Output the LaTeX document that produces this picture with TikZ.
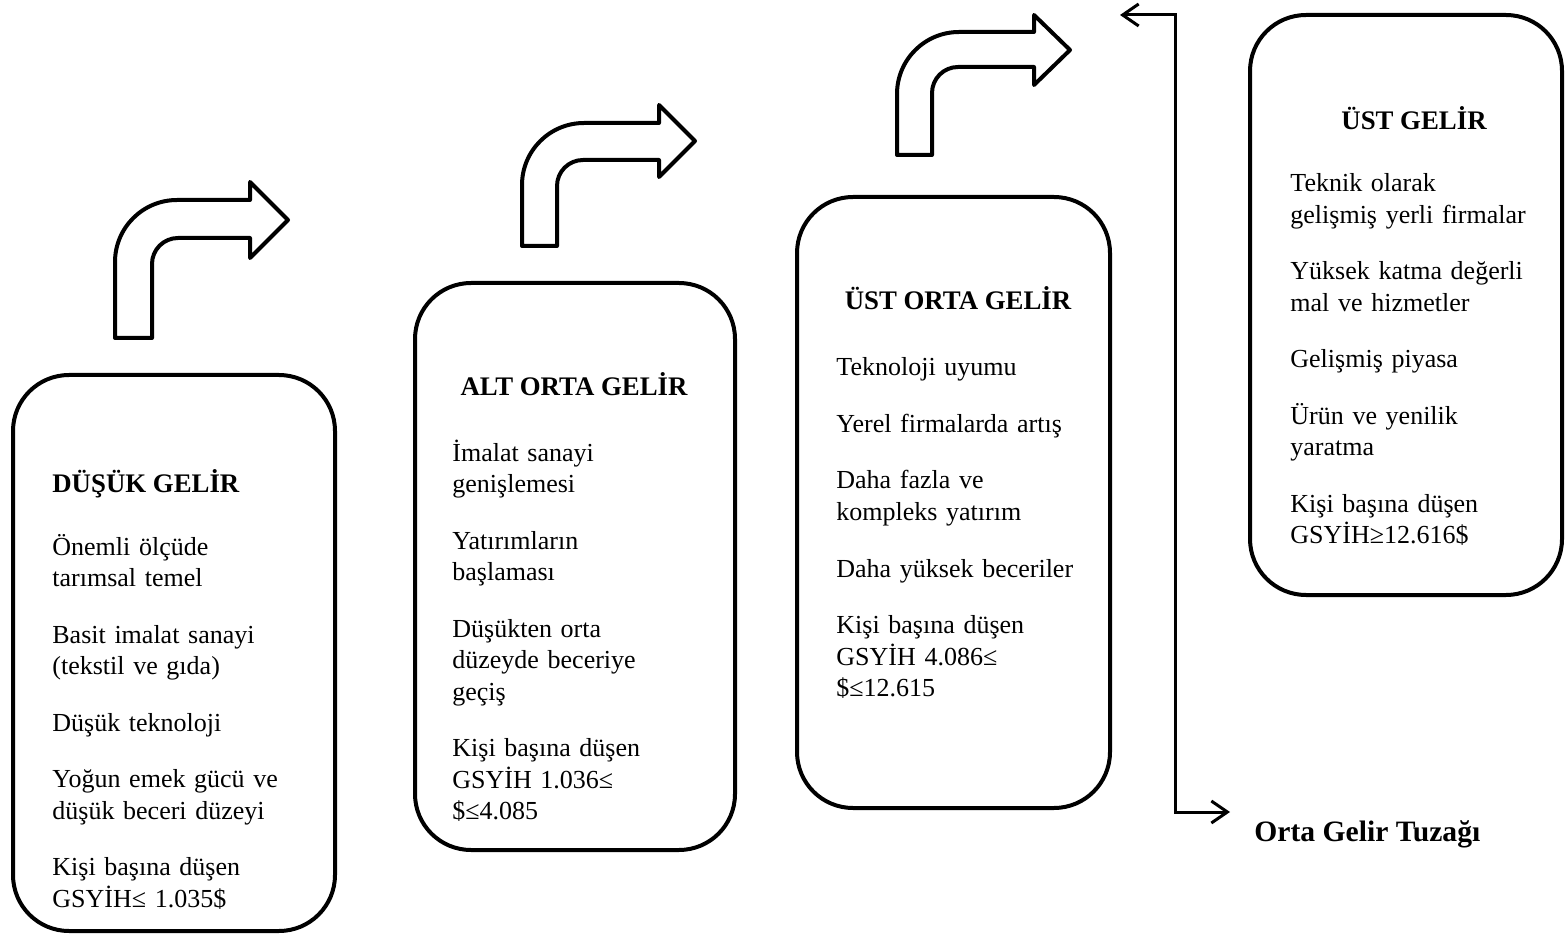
\documentclass[tikz,border=0pt]{standalone}
\usepackage{fontspec}
\setmainfont{Liberation Serif}
\usetikzlibrary{arrows.meta}

\begin{document}
\begin{tikzpicture}[x=0.5pt,y=-0.5pt,
  kutu/.style={draw, line width=2pt, rounded corners=28pt, rectangle, inner sep=0pt},
  baslik/.style={font=\fontsize{13.4}{15.75}\selectfont\bfseries, inner sep=0pt},
  metin/.style={font=\fontsize{13}{15.75}\selectfont, text width=135pt, align=left, inner sep=0pt, anchor=base west},
  donenok/.style={draw, line width=2pt, line join=round, fill=white},
  tuzak/.style={line width=1.5pt, >={Straight Barb[length=8pt,width=11pt]}, <->}]
\useasboundingbox (0,0) rectangle (1566,940);

\node[kutu, minimum width=161pt, minimum height=278pt] (dusuk) at (174,653) {};
\node[kutu, minimum width=160pt, minimum height=283.5pt] (altorta) at (575,566.5) {};
\node[kutu, minimum width=156.5pt, minimum height=305.5pt] (ustorta) at (953.5,502.5) {};
\node[kutu, minimum width=156pt, minimum height=290pt] (ust) at (1406,305) {};

\node[baslik, anchor=base west] (dusukbaslik) at (52,492) {DÜŞÜK GELİR};
\node[baslik, anchor=base] (altortabaslik) at (574,395) {ALT ORTA GELİR};
\node[baslik, anchor=base] (ustortabaslik) at (958,310) {ÜST ORTA GELİR};
\node[baslik, anchor=base] (ustbaslik) at (1414,130) {ÜST GELİR};

\node[metin] (dusukmetin) at (52,555) {Önemli ölçüde\\ tarımsal temel\\[12.5pt] Basit imalat sanayi\\ (tekstil ve gıda)\\[12.5pt] Düşük teknoloji\\[12.5pt] Yoğun emek gücü ve\\ düşük beceri düzeyi\\[12.5pt] Kişi başına düşen\\ GSYİH≤ 1.035\$};
\node[metin] (altortametin) at (452,461) {İmalat sanayi\\ genişlemesi\\[12.5pt] Yatırımların\\ başlaması\\[12.5pt] Düşükten orta\\ düzeyde beceriye\\ geçiş\\[12.5pt] Kişi başına düşen\\ GSYİH 1.036≤\\ \$≤4.085};
\node[metin] (ustortametin) at (836,376) {Teknoloji uyumu\\[12.5pt] Yerel firmalarda artış\\[12.5pt] Daha fazla ve\\ kompleks yatırım\\[12.5pt] Daha yüksek beceriler\\[12.5pt] Kişi başına düşen\\ GSYİH 4.086≤\\ \$≤12.615};
\node[metin] (ustmetin) at (1290,192) {Teknik olarak\\ gelişmiş yerli firmalar\\[12.5pt] Yüksek katma değerli\\ mal ve hizmetler\\[12.5pt] Gelişmiş piyasa\\[12.5pt] Ürün ve yenilik\\ yaratma\\[12.5pt] Kişi başına düşen\\ GSYİH≥12.616\$};

\draw[donenok] (115,338) [rounded corners=31pt] -- (115,200) [sharp corners] -- (250,200) -- (250,182) -- (288,220) -- (250,258) -- (250,238) [rounded corners=13pt] -- (152,238) [sharp corners] -- (152,338) -- cycle;
\draw[donenok] (522,246) [rounded corners=31pt] -- (522,123) [sharp corners] -- (659,123) -- (659,105) -- (695,141) -- (659,177) -- (659,160) [rounded corners=13pt] -- (557,160) [sharp corners] -- (557,246) -- cycle;
\draw[donenok] (897,155) [rounded corners=31pt] -- (897,32) [sharp corners] -- (1034,32) -- (1034,15) -- (1070,50) -- (1034,85) -- (1034,67) [rounded corners=13pt] -- (932,67) [sharp corners] -- (932,155) -- cycle;

\coordinate (geri) at (1120,15);
\coordinate (tuzakust) at (1175,15);
\coordinate (tuzakalt) at (1175,812);
\coordinate (ileri) at (1230,812);
\draw[tuzak] (geri) -- (tuzakust) -- (tuzakalt) -- (ileri);
\node[font=\fontsize{14.8}{17}\selectfont\bfseries, anchor=base west, inner sep=0pt] (tuzaketiket) at (1254,841) {Orta Gelir Tuzağı};
\end{tikzpicture}
\end{document}
